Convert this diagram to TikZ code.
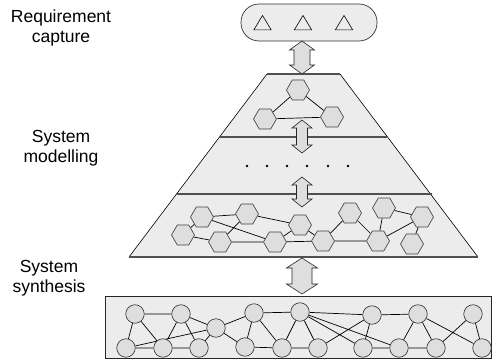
\documentclass[tikz,border=0pt]{standalone}
\usepackage{fontspec}
\setmainfont{Liberation Sans}
\usetikzlibrary{shapes.geometric}
\pgfdeclarelayer{bg}
\pgfdeclarelayer{edgelayer}
\pgfsetlayers{bg,edgelayer,main}
\definecolor{panelgray}{RGB}{236,236,236}
\definecolor{shapegray}{RGB}{222,222,222}
\definecolor{rulegray}{RGB}{80,80,80}
% vertical double block arrow: x, y of top tip, y of bottom tip, shaft half width, head half width, head length
\newcommand\vblockarrow[6]{%
  \filldraw[fill=shapegray,draw=black!85,line width=0.6pt,line join=miter]
    ({#1-#4},{#2+#6}) -- ({#1-#5},{#2+#6}) -- (#1,#2) -- ({#1+#5},{#2+#6}) -- ({#1+#4},{#2+#6})
    -- ({#1+#4},{#3-#6}) -- ({#1+#5},{#3-#6}) -- (#1,#3) -- ({#1-#5},{#3-#6}) -- ({#1-#4},{#3-#6}) -- cycle;}
\begin{document}
\begin{tikzpicture}[x=1pt,y=-1pt,
  hexnode/.style={regular polygon,regular polygon sides=6,minimum size=23pt,inner sep=0pt,
    draw=black!75,fill=shapegray,line width=0.65pt},
  cnode/.style={circle,minimum size=18.5pt,inner sep=0pt,draw=black!80,fill=shapegray,line width=0.65pt},
  tri/.style={isosceles triangle,isosceles triangle apex angle=62,shape border rotate=90,
    minimum height=14.5pt,inner sep=0pt,draw=black,line width=0.6pt},
  link/.style={draw=black,line width=0.7pt},
  label/.style={font=\fontsize{17.5}{20}\selectfont,align=center}]
\useasboundingbox (0,0) rectangle (492,361);

% panels
\begin{pgfonlayer}{bg}
  \filldraw[fill=panelgray,draw=black!80,line width=0.7pt,rounded corners=18pt] (241,4) rectangle (377,41);
  \fill[panelgray] (267,74) -- (340,74) -- (478,257) -- (129,257) -- cycle;
  \draw[black,line width=0.6pt] (267,74) -- (129,257) (340,74) -- (478,257);
  \draw[rulegray,line width=1.3pt] (267,74) -- (340,74) (220,137) -- (387,137)
    (176,194) -- (432,194) (129,257) -- (478,257);
  \filldraw[fill=panelgray,draw=black!85,line width=0.8pt] (105,296) rectangle (491.5,358);
\end{pgfonlayer}

% labels
\node[label] (req) at (61,28) {Requirement\\capture};
\node[label] (mod) at (61,148) {System\\modelling};
\node[label] (syn) at (49,278) {System\\synthesis};

% requirement triangles
\node[tri] (r1) at (262.5,25) {};
\node[tri] (r2) at (303,25) {};
\node[tri] (r3) at (344,25) {};

% arrows between the levels
\vblockarrow{302}{41}{74}{8}{12.5}{9}
\vblockarrow{302}{120}{153}{5.5}{10}{8}
\vblockarrow{302}{177}{207}{5.5}{10}{8}
\vblockarrow{302}{258}{294}{10}{15.5}{10}

% dots
\foreach \x in {247,267,287,307,328,348} \fill (\x,166) circle (1.4pt);

% first model
\node[hexnode] (h1) at (298,90) {};
\node[hexnode] (h2) at (265,119) {};
\node[hexnode] (h3) at (332,117) {};
\begin{pgfonlayer}{edgelayer}
  \draw[link] (h1) -- (h2) (h1) -- (h3) (h2) -- (h3);
\end{pgfonlayer}

% detailed model
\node[hexnode] (ma) at (202,217) {};
\node[hexnode] (mb) at (247,214) {};
\node[hexnode] (mc) at (183,235) {};
\node[hexnode] (md) at (220,242) {};
\node[hexnode] (me) at (300,225) {};
\node[hexnode] (mf) at (275,242) {};
\node[hexnode] (mg) at (323,241) {};
\node[hexnode] (mh) at (350,213) {};
\node[hexnode] (mi) at (384,208) {};
\node[hexnode] (mj) at (378,241) {};
\node[hexnode] (mk) at (422,217) {};
\node[hexnode] (ml) at (412,244) {};
\begin{pgfonlayer}{edgelayer}
  \draw[link] (ma) -- (mb) (ma) -- (mf) (mb) -- (md) (mb) -- (me) (mc) -- (ma) (mc) -- (md)
    (md) -- (mf) (mf) -- (mg) (me) -- (mg) (mf) -- (me) (mg) -- (mh) (mg) -- (mj) (mh) -- (mj)
    (mi) -- (mj) (mi) -- (mk) (mj) -- (mk) (mk) -- (ml);
\end{pgfonlayer}

% synthesised network
\node[cnode] (t1) at (135,314) {};
\node[cnode] (t2) at (181,314) {};
\node[cnode] (tm) at (216,328) {};
\node[cnode] (t3) at (254,313) {};
\node[cnode] (t4) at (300,312) {};
\node[cnode] (t5) at (372,315) {};
\node[cnode] (t6) at (418,314) {};
\node[cnode] (t7) at (473,314) {};
\node[cnode] (b1) at (126,348) {};
\node[cnode] (b2) at (163,348) {};
\node[cnode] (b3) at (199,348) {};
\node[cnode] (b4) at (245,347) {};
\node[cnode] (b5) at (282,348) {};
\node[cnode] (b6) at (318,348) {};
\node[cnode] (b7) at (363,348) {};
\node[cnode] (b8) at (399,348) {};
\node[cnode] (b9) at (436,348) {};
\node[cnode] (b10) at (482,348) {};
\begin{pgfonlayer}{edgelayer}
  \draw[link] (t1) -- (t2) (t1) -- (b1) (t1) -- (b2) (t2) -- (b2) (t2) -- (b3) (t2) -- (tm)
    (b1) -- (tm) (b1) -- (b2) (b2) -- (b3) (tm) -- (b3) (tm) -- (t3) (tm) -- (b4)
    (t3) -- (b4) (t3) -- (t4) (t3) -- (b5) (b4) -- (b5) (t4) -- (b5) (t4) -- (b6) (b5) -- (b6)
    (t4) -- (t5) (t4) -- (b7) (t4) -- (b8) (b6) -- (t5) (t5) -- (t6) (t5) -- (b7)
    (b7) -- (b8) (b8) -- (b9) (t6) -- (b8) (t6) -- (b9) (t6) -- (b10) (b9) -- (t7) (t7) -- (b10);
\end{pgfonlayer}
\end{tikzpicture}
\end{document}
